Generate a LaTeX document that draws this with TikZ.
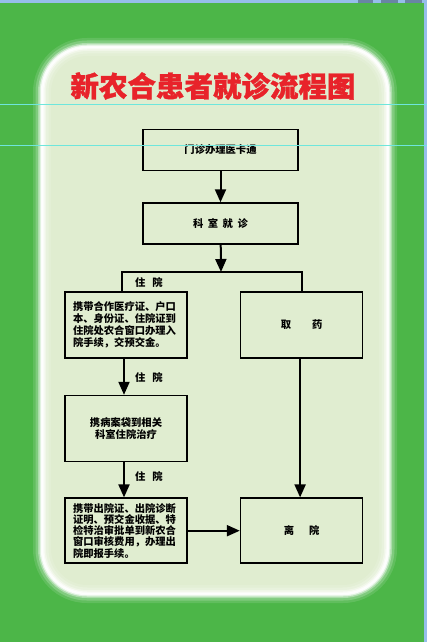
\documentclass[tikz,border=0pt]{standalone}
\usepackage{fontspec}
\newfontfamily\cjk{Noto Sans CJK SC}
\newfontfamily\cjktitle[BoldFeatures={FakeBold=1.2}]{Noto Sans CJK SC}
\usepackage{xcolor}
\usepackage{tikz}
\usetikzlibrary{arrows.meta,positioning}
\definecolor{bggreen}{RGB}{76,182,72}
\definecolor{panelgreen}{RGB}{224,237,208}
\definecolor{titlered}{RGB}{232,35,42}
\definecolor{guidecyan}{RGB}{110,230,220}
\definecolor{barblue}{RGB}{150,190,235}
\tikzset{
  block/.style={
    rectangle,
    draw=black,
    line width=1.6pt,
    minimum width=155pt,
    minimum height=41pt,
    align=center,
    fill=panelgreen,
    font=\cjk\bfseries\fontsize{10.3}{12}\selectfont
  },
  smallblock/.style={
    block,
    minimum width=122pt,
    minimum height=66pt
  },
  textblock/.style={
    smallblock,
    text width=106pt,
    align=left
  },
  arrow/.style={
    -{Triangle[length=13pt,width=11pt]},
    line width=2pt
  },
  link/.style={
    line width=2pt
  },
  tag/.style={
    font=\cjk\bfseries\fontsize{10.3}{12}\selectfont
  }
}

\begin{document}
\begin{tikzpicture}[x=1pt,y=-1pt]
\useasboundingbox (0,0) rectangle (427,642);

% background and panel
\fill[bggreen] (0,0) rectangle (427,642);
\fill[barblue] (0,0) rectangle (427,3);
\fill[barblue] (424,0) rectangle (427,642);
\fill[barblue!70!black] (358,0) rectangle (373,3);
\fill[barblue!70!black] (381,0) rectangle (398,3);
\fill[barblue!70!black] (405,0) rectangle (422,3);
\fill[panelgreen, rounded corners=45pt] (42,47) rectangle (388,594);
\foreach \w/\o in {18/0.12, 13/0.2, 8/0.35, 5/0.6, 2.5/0.9}
  \draw[white, line width=\w pt, opacity=\o, rounded corners=45pt] (42,47) rectangle (388,594);

\node[font=\cjktitle\bfseries\fontsize{28.5}{30}\selectfont, text=titlered] (title) at (213,86) {新农合患者就诊流程图};

\node[block] (mzbox) at (220.5,150) {门诊办理医卡通};
\node[block, below=31pt of mzbox] (ksbox) {科\hspace{4.5pt}室\hspace{4.5pt}就\hspace{4.5pt}诊};

\node[textblock] (zybox) at (126,325) {携带合作医疗证、户口\\本、身份证、住院证到\\住院处农合窗口办理入\\院手续，交预交金。};
\node[smallblock, right=52pt of zybox] (qybox) {取\hspace{21pt}药};

\node[smallblock, below=36pt of zybox] (blbox) {携病案袋到相关\\科室住院治疗};
\node[textblock, below=35pt of blbox, minimum height=65pt, font=\cjk\bfseries\fontsize{10.3}{11.3}\selectfont] (cybox) {携带出院证、出院诊断\\证明、预交金收据、特\\检特治审批单到新农合\\窗口审核费用，办理出\\院即报手续。};
\node[smallblock, right=52pt of cybox, minimum height=65pt] (lybox) {离\hspace{15pt}院};

\node[tag] (tag1) at (149,283) {住\hspace{7pt}院};
\node[tag] (tag2) at (149,378) {住\hspace{7pt}院};
\node[tag] (tag3) at (149,477) {住\hspace{7pt}院};

\coordinate (fork) at (221,272);
\coordinate (forkL) at (122,272);
\coordinate (forkR) at (302,272);

\draw[arrow] (mzbox) -- (ksbox);
\draw[arrow] (ksbox) -- (fork);
\draw[link] (zybox.north -| forkL) -- (forkL) -- (forkR) -- (qybox.north -| forkR);
\draw[arrow] ([xshift=-2pt]zybox.south) -- ([xshift=-2pt]blbox.north);
\draw[arrow] ([xshift=-2pt]blbox.south) -- ([xshift=-2pt]cybox.north);
\draw[arrow] ([xshift=-1.5pt]qybox.south) -- ([xshift=-1.5pt]lybox.north);
\draw[arrow] (cybox) -- (lybox);

% guides
\draw[guidecyan, line width=0.8pt] (0,104) -- (427,104);
\draw[guidecyan, line width=0.8pt] (0,145) -- (427,145);

\end{tikzpicture}
\end{document}
